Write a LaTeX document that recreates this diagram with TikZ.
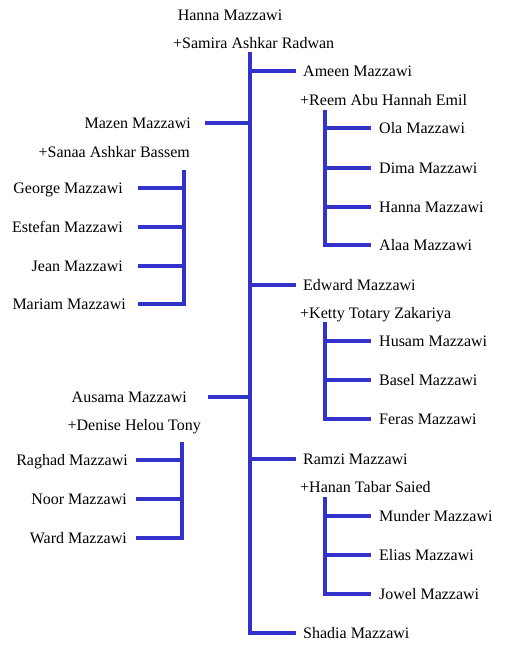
\documentclass[tikz,border=0pt]{standalone}
\usepackage{fontspec}
\setmainfont{Liberation Serif}
\definecolor{lc}{HTML}{3333CC}
\begin{document}
\begin{tikzpicture}[x=1pt,y=-1pt,
 pname/.style={font=\fontsize{16}{18}\selectfont, inner ysep=0pt, inner xsep=0pt, text height=11pt, text depth=0pt},
 rn/.style={pname, anchor=west, inner xsep=7pt},
 cn/.style={pname, anchor=west, inner xsep=8pt},
 ln/.style={pname, anchor=east, inner xsep=#1},
 sw/.style={pname, anchor=west},
 se/.style={pname, anchor=east},
 link/.style={draw=lc, line width=3.4pt}]
\useasboundingbox (0,0) rectangle (519,650);
% root
\node[pname] (hanna) at (230,15) {Hanna Mazzawi};
\node[sw] (samira) at (173,43) {+Samira Ashkar Radwan};
% right side children of root
\node[rn] (ameen) at (296,71) {Ameen Mazzawi};
\node[sw] (reem) at (300,100) {+Reem Abu Hannah Emil};
\node[cn] (ola) at (371,128) {Ola Mazzawi};
\node[cn] (dima) at (371,168) {Dima Mazzawi};
\node[cn] (hannaj) at (371,207) {Hanna Mazzawi};
\node[cn] (alaa) at (371,245) {Alaa Mazzawi};
\node[rn] (edward) at (296,285) {Edward Mazzawi};
\node[sw] (ketty) at (300,313) {+Ketty Totary Zakariya};
\node[cn] (husam) at (371,341) {Husam Mazzawi};
\node[cn] (basel) at (371,380) {Basel Mazzawi};
\node[cn] (feras) at (371,419) {Feras Mazzawi};
\node[rn] (ramzi) at (296,459) {Ramzi Mazzawi};
\node[sw] (hanan) at (300,487) {+Hanan Tabar Saied};
\node[cn] (munder) at (371,516) {Munder Mazzawi};
\node[cn] (elias) at (371,555) {Elias Mazzawi};
\node[cn] (jowel) at (371,594) {Jowel Mazzawi};
\node[rn] (shadia) at (296,633) {Shadia Mazzawi};
% left side
\node[ln=14pt] (mazen) at (205,123) {Mazen Mazzawi};
\node[se] (sanaa) at (190,152) {+Sanaa Ashkar Bassem};
\node[ln=15pt] (george) at (138,188) {George Mazzawi};
\node[ln=15pt] (estefan) at (138,227) {Estefan Mazzawi};
\node[ln=15pt] (jean) at (138,266) {Jean Mazzawi};
\node[ln=12pt] (mariam) at (138,304) {Mariam Mazzawi};
\node[ln=21pt] (ausama) at (208,397) {Ausama Mazzawi};
\node[se] (denise) at (201,425) {+Denise Helou Tony};
\node[ln=8pt] (raghad) at (136,460) {Raghad Mazzawi};
\node[ln=9pt] (noor) at (136,499) {Noor Mazzawi};
\node[ln=9pt] (ward) at (136,538) {Ward Mazzawi};
% bars
\coordinate (mtop) at (250,52);
\coordinate (rtop) at (325,110);
\coordinate (ztop) at (184,170);
\coordinate (ktop) at (325,322);
\coordinate (dtop) at (182,442);
\coordinate (htop) at (325,497);
% main bar
\draw[link] (mtop) |- (shadia.west);
\draw[link] (mtop |- ameen.west) -- (ameen.west);
\draw[link] (mtop |- edward.west) -- (edward.west);
\draw[link] (mtop |- ramzi.west) -- (ramzi.west);
\draw[link] (mtop |- mazen.east) -- (mazen.east);
\draw[link] (mtop |- ausama.east) -- (ausama.east);
% Reem children
\draw[link] (rtop) |- (alaa.west);
\draw[link] (rtop |- ola.west) -- (ola.west);
\draw[link] (rtop |- dima.west) -- (dima.west);
\draw[link] (rtop |- hannaj.west) -- (hannaj.west);
% Ketty children
\draw[link] (ktop) |- (feras.west);
\draw[link] (ktop |- husam.west) -- (husam.west);
\draw[link] (ktop |- basel.west) -- (basel.west);
% Hanan children
\draw[link] (htop) |- (jowel.west);
\draw[link] (htop |- munder.west) -- (munder.west);
\draw[link] (htop |- elias.west) -- (elias.west);
% Sanaa children
\draw[link] (ztop) |- (mariam.east);
\draw[link] (ztop |- george.east) -- (george.east);
\draw[link] (ztop |- estefan.east) -- (estefan.east);
\draw[link] (ztop |- jean.east) -- (jean.east);
% Denise children
\draw[link] (dtop) |- (ward.east);
\draw[link] (dtop |- raghad.east) -- (raghad.east);
\draw[link] (dtop |- noor.east) -- (noor.east);
\end{tikzpicture}
\end{document}
